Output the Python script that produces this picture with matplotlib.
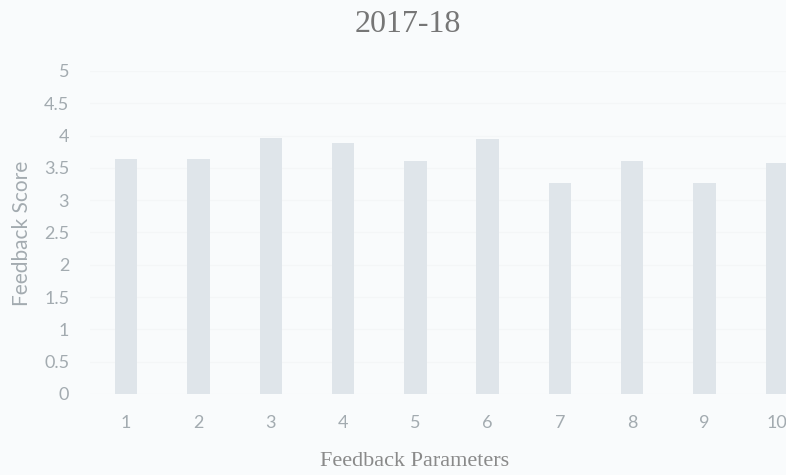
import matplotlib
matplotlib.use("Agg")
import matplotlib.pyplot as plt

# data
params = ["1", "2", "3", "4", "5", "6", "7", "8", "9", "10"]
scores = [3.64, 3.64, 3.97, 3.89, 3.61, 3.95, 3.26, 3.61, 3.26, 3.58]
yticks = [0, 0.5, 1, 1.5, 2, 2.5, 3, 3.5, 4, 4.5, 5]
ytick_labels = ["0", "0.5", "1", "1.5", "2", "2.5", "3", "3.5", "4", "4.5", "5"]

bg = "#f9fbfc"
bar_color = "#dfe5ea"
tick_color = "#a3abb0"

fig = plt.figure(figsize=(7.86, 4.75), dpi=100, facecolor=bg)
# plot area runs past the right edge, as in the cropped scan
ax = fig.add_axes([90 / 786, 81 / 475, 723 / 786, 323 / 475])
ax.set_facecolor(bg)

x = list(range(len(params)))
ax.bar(x, scores, width=0.31, color=bar_color, zorder=2)

ax.set_xlim(-0.5, len(params) - 0.5)
ax.set_ylim(0, 5)
ax.set_yticks(yticks)
ax.set_yticklabels(ytick_labels)
ax.set_xticks(x)
ax.set_xticklabels(params)
ax.grid(axis="y", color="#f4f6f7", linewidth=0.8, zorder=0)

for s in ax.spines.values():
    s.set_visible(False)
ax.tick_params(length=0, colors=tick_color, labelsize=13)
ax.tick_params(axis="y", pad=15)
ax.tick_params(axis="x", pad=15)
for lab in ax.get_xticklabels() + ax.get_yticklabels():
    lab.set_family("Lato")

fig.text(408 / 786, 1 - 25 / 475, "2017-18", ha="center", va="center",
         family="Liberation Serif", fontsize=23, color="#767676")
fig.text(415 / 786, 1 - 462 / 475, "Feedback Parameters", ha="center", va="center",
         family="Liberation Serif", fontsize=16, color="#8a8a8a")
fig.text(22 / 786, 1 - 233 / 475, "Feedback Score", ha="center", va="center",
         rotation=90, family="Lato", fontsize=15, color=tick_color)

plt.savefig("out.png", dpi=100, facecolor=bg)
